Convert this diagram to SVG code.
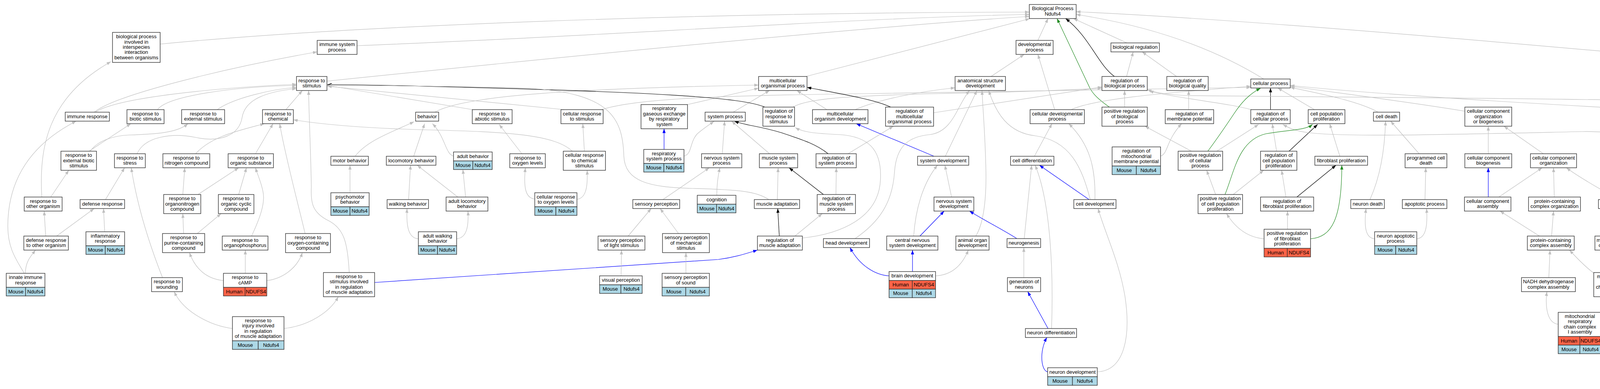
<svg xmlns="http://www.w3.org/2000/svg" width="6075" height="997" viewBox="0 0 6075 997">
<style>
.n{fill:#fff;stroke:#333;stroke-width:1.4}
.m{fill:#add8e6;stroke:#333;stroke-width:1.4}
.h{fill:#ff6347;stroke:#333;stroke-width:1.4}
text{font-family:"Liberation Sans",Arial,Helvetica,sans-serif;font-size:13px;text-anchor:middle;fill:#000}
#edges path{fill:none;stroke-width:1.2}
#edges .g{stroke:#c0c0c0;marker-end:url(#mg)}
#edges .k{stroke:#000;marker-end:url(#mk)}
#edges .b{stroke:#0000ff;marker-end:url(#mb)}
#edges .v{stroke:#228b22;marker-end:url(#mv)}
</style>
<defs>
<marker id="mg" markerUnits="userSpaceOnUse" markerWidth="11" markerHeight="8" refX="11" refY="4" orient="auto"><path d="M0,0 L11,4 L0,8 z" fill="#c0c0c0"/></marker>
<marker id="mk" markerUnits="userSpaceOnUse" markerWidth="11" markerHeight="8" refX="11" refY="4" orient="auto"><path d="M0,0 L11,4 L0,8 z" fill="#000"/></marker>
<marker id="mb" markerUnits="userSpaceOnUse" markerWidth="11" markerHeight="8" refX="11" refY="4" orient="auto"><path d="M0,0 L11,4 L0,8 z" fill="#0000ff"/></marker>
<marker id="mv" markerUnits="userSpaceOnUse" markerWidth="11" markerHeight="8" refX="11" refY="4" orient="auto"><path d="M0,0 L11,4 L0,8 z" fill="#228b22"/></marker>
</defs>
<rect width="6075" height="997" fill="#fff"/>
<g id="edges">
<path class="g" d="M410,113 C900,65 1800,32 2635,31"/>
<path class="g" d="M914,117 C1500,95 2200,45 2635,37"/>
<path class="g" d="M837,208 C1400,150 2200,70 2635,42"/>
<path class="g" d="M2063,196 L2636,48"/>
<path class="g" d="M2657,103.5 L2683,47.5"/>
<path class="k" d="M2853,196 C2810,165 2790,95 2728,47.5"/>
<path class="v" d="M2840,274.5 C2805,250 2793,235 2785,215 L2706,47.5"/>
<path class="g" d="M2885,110 L2748,47.5"/>
<path class="g" d="M3235,202.5 C3150,150 3000,75 2755,37"/>
<path class="g" d="M4957,208 C4200,140 3300,55 2755,30"/>
<path class="g" d="M241,287.5 C300,240 600,170 812,133"/>
<path class="g" d="M244,287.5 C300,250 550,225 759,216"/>
<path class="g" d="M403,281 C430,245 600,222 759,219"/>
<path class="g" d="M556,281 C600,250 700,228 759,224"/>
<path class="g" d="M732,281 L774,232"/>
<path class="g" d="M351,394 C370,350 440,340 500,352 C560,365 612,350 620,300 C628,255 680,235 759,227"/>
<path class="g" d="M228,387.5 L335,317"/>
<path class="g" d="M231,387.5 C250,360 290,348 330,346 C400,344 455,340 481,317"/>
<path class="g" d="M501,394 C540,350 610,335 677,317"/>
<path class="g" d="M654,394 L699,317"/>
<path class="g" d="M781,598.5 C770,550 730,400 716,317"/>
<path class="g" d="M1465,387.5 C1420,345 1300,338 1100,333 C900,328 800,315 751,307"/>
<path class="g" d="M894,698.5 C890,620 880,585 840,565 C800,545 795,520 797,480 C796,400 791,300 790,232"/>
<path class="g" d="M909,400.5 C940,360 1000,340 1060,312"/>
<path class="g" d="M896,494 L896,423.5"/>
<path class="g" d="M130,505 L176,436.5"/>
<path class="g" d="M107,505 C100,380 120,250 284,158"/>
<path class="g" d="M270,511.5 L319,430"/>
<path class="g" d="M416,711.5 C380,620 350,520 336,430"/>
<path class="g" d="M468,498.5 L473,430"/>
<path class="g" d="M507,498.5 L611,430"/>
<path class="g" d="M611,498.5 L631,430"/>
<path class="g" d="M644,605 C665,560 680,520 673,490 C668,465 660,450 654,430"/>
<path class="g" d="M117,605 L113,541"/>
<path class="g" d="M145,605 L241,534.5"/>
<path class="g" d="M268,594 L265,534.5"/>
<path class="g" d="M470,598.5 L468,547.5"/>
<path class="g" d="M505,598.5 L566,547.5"/>
<path class="g" d="M65,700.5 C65,670 80,655 91,641"/>
<path class="g" d="M62,700.5 C45,670 20,640 20,580 C20,480 60,380 195,310.5"/>
<path class="g" d="M572,719 C530,715 500,690 485,647.5"/>
<path class="g" d="M628,700.5 L628,641"/>
<path class="g" d="M683,719 C720,715 760,690 774,647.5"/>
<path class="g" d="M595,842 C540,835 470,800 446,747.5"/>
<path class="g" d="M727,842 C790,835 845,800 866,760.5"/>
<path class="b" d="M959,724 L1839,665 C1880,660 1910,650 1939,641"/>
<path class="g" d="M1113,287.5 C1180,250 1400,228 1942,218"/>
<path class="g" d="M1059,400.5 L1087,317"/>
<path class="g" d="M1161,400 C1140,395 1140,350 1107,317"/>
<path class="g" d="M1210,281 L838,219"/>
<path class="g" d="M1445,281 L838,221"/>
<path class="g" d="M1540,281 C1620,255 1800,245 2222,240 C2700,235 3000,228 3202,224"/>
<path class="g" d="M1760,268 L1942,226"/>
<path class="g" d="M1877,287.5 L1970,232"/>
<path class="k" d="M1958,274.5 C1900,250 1700,235 1000,219 C900,217 860,217 838,217"/>
<path class="g" d="M2030,274.5 C2070,250 2200,245 2400,240 C2600,236 2750,230 2821,226"/>
<path class="g" d="M2117,281 L2040,232"/>
<path class="g" d="M2189,281 C2250,255 2350,235 2445,225"/>
<path class="g" d="M2700,281 L2657,139.5"/>
<path class="g" d="M2742,281 C2800,255 2950,240 3202,221"/>
<path class="k" d="M2280,274.5 C2240,255 2150,240 2066,224"/>
<path class="g" d="M2390,289 L2821,223"/>
<path class="g" d="M2879,274.5 L2879,232"/>
<path class="g" d="M3043,281 L3043,232"/>
<path class="g" d="M3012,196 L2924,133"/>
<path class="g" d="M2884,196 L2901,133"/>
<path class="g" d="M2537,196 L2622,139.5"/>
<path class="g" d="M3203,281 C3150,265 3000,250 2942,233"/>
<path class="k" d="M3252.5,281 L3252.5,225.5"/>
<path class="g" d="M3365,281 L3271,225.5"/>
<path class="g" d="M3528,287.5 C3480,260 3380,240 3303,224"/>
<path class="g" d="M3750,285 C3600,260 3400,235 3303,221"/>
<path class="g" d="M4477,296 C4200,280 3600,250 3303,219"/>
<path class="g" d="M4816,286 C4600,255 4000,254 3040,245 C2990,243 2960,238 2937,230"/>
<path class="g" d="M4588,289 L4958,225.5"/>
<path class="k" d="M4906,281 L4997,225.5"/>
<path class="g" d="M5078,281 L5032,225.5"/>
<path class="g" d="M5219,281 L5060,225.5"/>
<path class="g" d="M5582,289 L5073,220"/>
<path class="g" d="M1336,394 L1278,319"/>
<path class="g" d="M1496,387.5 L1492,317"/>
<path class="b" d="M1700,383 L1700,330"/>
<path class="g" d="M1751,400 C1772,395 1765,365 1785,343 C1800,330 1815,320 1828,311"/>
<path class="g" d="M1849,394 L1855,310.5"/>
<path class="g" d="M1970,394 L1873,310.5"/>
<path class="k" d="M2120,394 C2090,370 2060,360 2000,340 C1940,322 1910,322 1880,310.5"/>
<path class="g" d="M2171,394 L2287,323.5"/>
<path class="b" d="M2391,400.5 L2192,317"/>
<path class="g" d="M2420,400.5 L2501,232"/>
<path class="g" d="M2648,400.5 L2693,317"/>
<path class="g" d="M2971,400 C2990,395 2985,360 3025,317"/>
<path class="g" d="M3050,387.5 L2931,323.5"/>
<path class="g" d="M3115,387.5 L3222,319"/>
<path class="v" d="M3092,387.5 C3120,350 3140,320 3160,290 C3180,260 3200,240 3227,226"/>
<path class="g" d="M3268,387.5 L3257,317"/>
<path class="k" d="M3300,387.5 L3373,319"/>
<path class="g" d="M3430,400.5 L3404,317"/>
<path class="g" d="M3633,394 L3560,310.5"/>
<path class="g" d="M3810,394 L3810,323.5"/>
<path class="g" d="M3951,394 L3850,323.5"/>
<path class="g" d="M4232,387.5 C4280,350 4380,325 4477,311"/>
<path class="k" d="M4398,387.5 L4506,317"/>
<path class="g" d="M4393,387.5 C4420,365 4460,360 4550,350 C4650,338 4750,320 4816,310"/>
<path class="g" d="M4333,387.5 C4290,350 4200,340 4060,337 C3700,345 3450,352 3350,340 C3310,335 3295,325 3284,319"/>
<path class="g" d="M4533,394 L4533,317"/>
<path class="g" d="M4647,390 C4625,385 4630,350 4567,317"/>
<path class="g" d="M4867,387.5 L4590,313"/>
<path class="g" d="M5059,387.5 L4932,317"/>
<path class="k" d="M5095.5,387.5 L5095.5,317"/>
<path class="k" d="M5257,387.5 L5257,317"/>
<path class="g" d="M5222,387.5 C5190,350 5100,345 5000,335 C4960,330 4945,325 4935,317"/>
<path class="g" d="M5500,394 L5617,317"/>
<path class="g" d="M5641,387.5 L5641,317"/>
<path class="g" d="M5591,387.5 C5560,350 5450,325 5317,310"/>
<path class="g" d="M5775,387.5 L5668,317"/>
<path class="g" d="M5955,387.5 C5920,355 5800,325 5699,311"/>
<path class="g" d="M1046,511.5 L1051,423.5"/>
<path class="g" d="M1172,505 L1068,423.5"/>
<path class="g" d="M1192,505 L1185,434.5"/>
<path class="g" d="M1369,510 C1345,508 1340,480 1345,430"/>
<path class="g" d="M1477,511 C1500,508 1505,480 1503,436.5"/>
<path class="g" d="M1697,511.5 L1816,430"/>
<path class="g" d="M1835,500.5 C1835,470 1838,450 1843,430"/>
<path class="g" d="M1990,511.5 L1992,430"/>
<path class="g" d="M1968,511.5 C1940,492 1900,486 1773,483 C1660,480 1600,465 1597,400 C1594,300 1560,238 1350,226 C1150,220 900,219 838,219"/>
<path class="g" d="M2140,498.5 L2141,430"/>
<path class="k" d="M2108,498.5 L2020,430"/>
<path class="g" d="M2436,505 L2419,423.5"/>
<path class="g" d="M2803,511.5 C2805,430 2790,370 2736,317"/>
<path class="b" d="M2788,511.5 L2661,423.5"/>
<path class="g" d="M2791,511.5 C2770,430 2740,360 2650,348 C2580,340 2550,290 2531,232"/>
<path class="g" d="M3112,498.5 L3089,436.5"/>
<path class="g" d="M3157,498.5 L3235,436.5"/>
<path class="v" d="M3136,498.5 C3160,440 3170,360 3240,343 C3300,332 3340,335 3360,319"/>
<path class="g" d="M3292,505 L3281,436.5"/>
<path class="k" d="M3320,505 L3420,423.5"/>
<path class="g" d="M3507,511.5 C3535,450 3545,380 3547,310.5"/>
<path class="g" d="M3648,511.5 L3650,430"/>
<path class="b" d="M3810,505 L3810,430"/>
<path class="g" d="M3837,505 L3948,430"/>
<path class="g" d="M3979,505 L3977,430"/>
<path class="g" d="M4141,511.5 C4100,485 4050,460 4010,430"/>
<path class="g" d="M4346,498.5 L4242,436.5"/>
<path class="k" d="M4567,498.5 L4541,430"/>
<path class="g" d="M4515,498.5 C4470,480 4420,465 4400,436.5"/>
<path class="g" d="M4697,498.5 C4650,480 4600,455 4564,430"/>
<path class="k" d="M5210,506 L5429,430"/>
<path class="g" d="M5093,518 C4950,510 4870,490 4840,450 C4815,415 4820,360 4857,317"/>
<path class="g" d="M5380,505 L5452,430"/>
<path class="g" d="M5397,505 C5450,470 5560,475 5597,436.5"/>
<path class="g" d="M5367,505 C5365,420 5360,360 5300,345 C5200,335 5160,335 5131,317"/>
<path class="g" d="M5503,505 L5484,430"/>
<path class="g" d="M5655,505 L5648,436.5"/>
<path class="g" d="M5823,498.5 L5819,436.5"/>
<path class="g" d="M5863,498.5 L5950,436.5"/>
<path class="g" d="M5767,498.5 C5720,478 5600,476 5300,476 C5100,476 5000,470 4962,436.5"/>
<path class="g" d="M1071,612 C1045,610 1040,580 1042,534.5"/>
<path class="g" d="M1169,612 C1195,610 1200,580 1198,541"/>
<path class="g" d="M1608,605 L1667,534.5"/>
<path class="g" d="M1737,598.5 L1690,534.5"/>
<path class="k" d="M1995,605 L1991,534.5"/>
<path class="g" d="M2035,605 L2105,547.5"/>
<path class="g" d="M2054,610 C2150,600 2250,560 2254,460 C2258,380 2220,350 2150,345 C2080,342 2055,338 2036,327"/>
<path class="g" d="M2189,611.5 C2250,570 2285,520 2290,440 C2295,370 2330,350 2380,345 C2440,338 2450,270 2482,232"/>
<path class="b" d="M2355,605 L2417,541"/>
<path class="g" d="M2339,605 C2345,520 2370,460 2400,423.5"/>
<path class="g" d="M2498,605 C2520,570 2525,500 2524,440 C2522,340 2516,280 2514,232"/>
<path class="b" d="M2603,611.5 C2570,590 2520,565 2482,541"/>
<path class="g" d="M2622,611.5 L2641,423.5"/>
<path class="g" d="M3236,612 C3190,608 3160,580 3140,547.5"/>
<path class="g" d="M3296,587.5 L3296,541"/>
<path class="v" d="M3355,612 C3410,608 3435,560 3435,423.5"/>
<path class="g" d="M3519,612 C3495,610 3492,580 3497,534.5"/>
<path class="g" d="M3627,612 C3650,610 3655,580 3652,534.5"/>
<path class="g" d="M3941,605 L3840,541"/>
<path class="g" d="M3972,605 L3977,541"/>
<path class="g" d="M4133,605 L4154,534.5"/>
<path class="g" d="M4275,605 C4272,530 4255,470 4222,436.5"/>
<path class="g" d="M4436,600.5 C4435,580 4428,560 4417,547.5"/>
<path class="g" d="M4688,598.5 L4616,547.5"/>
<path class="k" d="M4733,598.5 L4750,547.5"/>
<path class="g" d="M4870,611.5 L4792,547.5"/>
<path class="g" d="M5186,598.5 L5164,547.5"/>
<path class="k" d="M5241,598.5 L5332,541"/>
<path class="g" d="M5144,607 C5090,590 5060,560 5060,520 C5060,480 5070,460 5076,436.5"/>
<path class="g" d="M5212,598.5 C5230,540 5240,490 5253,436.5"/>
<path class="g" d="M5360,605 L5360,541"/>
<path class="g" d="M5389,605 L5481,541"/>
<path class="g" d="M5657,605 L5658,541"/>
<path class="g" d="M5825,598.5 L5824,547.5"/>
<path class="g" d="M1590,707 L1591,641"/>
<path class="g" d="M1756,700.5 L1756,647.5"/>
<path class="b" d="M2276,707 C2240,705 2200,680 2176,634.5"/>
<path class="b" d="M2336,696 L2336,641"/>
<path class="g" d="M2395,707 C2440,705 2465,675 2479,641"/>
<path class="g" d="M2621,711.5 L2621,634.5"/>
<path class="g" d="M3965,711.5 L3968,641"/>
<path class="b" d="M4127,698.5 L4127,641"/>
<path class="g" d="M4080,700 C4060,685 4040,665 4018,641"/>
<path class="g" d="M4340,694 C4340,670 4325,655 4311,641"/>
<path class="b" d="M4394,718 C4420,712 4405,690 4390,675 C4380,665 4377,655 4376,645.5"/>
<path class="g" d="M4844,711.5 L4759,647.5"/>
<path class="k" d="M4872,711.5 L4883,634.5"/>
<path class="g" d="M5019,718 L4906,634.5"/>
<path class="g" d="M5070,718 C5110,690 5200,672 5260,668 C5295,665 5310,655 5325,641"/>
<path class="g" d="M5210,705 L5204,647.5"/>
<path class="k" d="M5251,705 L5337,641"/>
<path class="g" d="M5727,711.5 L5675,641"/>
<path class="g" d="M5758,711.5 L5801,647.5"/>
<path class="b" d="M2683,842 L2631,747.5"/>
<path class="g" d="M2692,842 C2697,700 2690,520 2650,423.5"/>
<path class="g" d="M3989,831 C3962,828 3955,790 3960,747.5"/>
<path class="g" d="M4100,831 C4128,828 4133,790 4131,760.5"/>
<path class="g" d="M4964,842 C4920,835 4890,800 4878,747.5"/>
<path class="k" d="M5037,824.5 L5037,741"/>
<path class="g" d="M5109,842 C5160,835 5190,790 5203,754"/>
<path class="g" d="M5741,824.5 L5741,747.5"/>
<path class="b" d="M2682,953 C2665,950 2660,900 2680,865"/>
<path class="g" d="M2809,953 C2880,950 2895,860 2880,760 C2865,670 2830,600 2811,534.5"/>
</g>
<g id="n-root"><rect class="n" x="2635" y="11.5" width="120" height="36"/><text><tspan x="2695" y="26.3">Biological Process</tspan><tspan x="2695" y="39.7">Ndufs4</tspan></text></g>
<g id="n-bpi"><rect class="n" x="288" y="83" width="122" height="77"/><text><tspan x="349" y="98.2">biological process</tspan><tspan x="349" y="111.6">involved in</tspan><tspan x="349" y="125">interspecies</tspan><tspan x="349" y="138.4">interaction</tspan><tspan x="349" y="151.8">between organisms</tspan></text></g>
<g id="n-isp"><rect class="n" x="812" y="103.5" width="102" height="36"/><text><tspan x="863" y="118.3">immune system</tspan><tspan x="863" y="131.7">process</tspan></text></g>
<g id="n-dev"><rect class="n" x="2601" y="103.5" width="95" height="36"/><text><tspan x="2648.5" y="118.3">developmental</tspan><tspan x="2648.5" y="131.7">process</tspan></text></g>
<g id="n-breg"><rect class="n" x="2844" y="110" width="124" height="23"/><text><tspan x="2906" y="125">biological regulation</tspan></text></g>
<g id="n-rts"><rect class="n" x="759" y="196" width="78" height="36"/><text><tspan x="798" y="210.8">response to</tspan><tspan x="798" y="224.2">stimulus</tspan></text></g>
<g id="n-mop"><rect class="n" x="1942" y="196" width="124" height="36"/><text><tspan x="2004" y="210.8">multicellular</tspan><tspan x="2004" y="224.2">organismal process</tspan></text></g>
<g id="n-asd"><rect class="n" x="2445" y="196" width="129" height="36"/><text><tspan x="2509.5" y="210.8">anatomical structure</tspan><tspan x="2509.5" y="224.2">development</tspan></text></g>
<g id="n-rbp"><rect class="n" x="2821" y="196" width="116" height="36"/><text><tspan x="2879" y="210.8">regulation of</tspan><tspan x="2879" y="224.2">biological process</tspan></text></g>
<g id="n-rbq"><rect class="n" x="2987" y="196" width="106" height="36"/><text><tspan x="3040" y="210.8">regulation of</tspan><tspan x="3040" y="224.2">biological quality</tspan></text></g>
<g id="n-cp"><rect class="n" x="3202" y="202.5" width="101" height="23"/><text><tspan x="3252.5" y="217.5">cellular process</tspan></text></g>
<g id="n-mp"><rect class="n" x="4957" y="202.5" width="116" height="23"/><text><tspan x="5015" y="217.5">metabolic process</tspan></text></g>
<g id="n-ir"><rect class="n" x="167" y="287.5" width="113" height="23"/><text><tspan x="223.5" y="302.5">immune response</tspan></text></g>
<g id="n-rbs"><rect class="n" x="325" y="281" width="95" height="36"/><text><tspan x="372.5" y="295.8">response to</tspan><tspan x="372.5" y="309.2">biotic stimulus</tspan></text></g>
<g id="n-res"><rect class="n" x="465" y="281" width="110" height="36"/><text><tspan x="520" y="295.8">response to</tspan><tspan x="520" y="309.2">external stimulus</tspan></text></g>
<g id="n-rch"><rect class="n" x="672" y="281" width="79" height="36"/><text><tspan x="711.5" y="295.8">response to</tspan><tspan x="711.5" y="309.2">chemical</tspan></text></g>
<g id="n-beh"><rect class="n" x="1064" y="287.5" width="59" height="23"/><text><tspan x="1093.5" y="302.5">behavior</tspan></text></g>
<g id="n-ras"><rect class="n" x="1209" y="281" width="102" height="36"/><text><tspan x="1260" y="295.8">response to</tspan><tspan x="1260" y="309.2">abiotic stimulus</tspan></text></g>
<g id="n-crs"><rect class="n" x="1436" y="281" width="108" height="36"/><text><tspan x="1490" y="295.8">cellular response</tspan><tspan x="1490" y="309.2">to stimulus</tspan></text></g>
<g id="n-rge"><rect class="n" x="1641" y="268" width="119" height="62"/><text><tspan x="1700.5" y="282.4">respiratory</tspan><tspan x="1700.5" y="295.8">gaseous exchange</tspan><tspan x="1700.5" y="309.2">by respiratory</tspan><tspan x="1700.5" y="322.6">system</tspan></text></g>
<g id="n-sp"><rect class="n" x="1805" y="287.5" width="103" height="23"/><text><tspan x="1856.5" y="302.5">system process</tspan></text></g>
<g id="n-rrs"><rect class="n" x="1953" y="274.5" width="81" height="49"/><text><tspan x="1993.5" y="289.1">regulation of</tspan><tspan x="1993.5" y="302.5">response to</tspan><tspan x="1993.5" y="315.9">stimulus</tspan></text></g>
<g id="n-mod"><rect class="n" x="2080" y="281" width="142" height="36"/><text><tspan x="2151" y="295.8">multicellular</tspan><tspan x="2151" y="309.2">organism development</tspan></text></g>
<g id="n-rmop"><rect class="n" x="2267" y="274.5" width="123" height="49"/><text><tspan x="2328.5" y="289.1">regulation of</tspan><tspan x="2328.5" y="302.5">multicellular</tspan><tspan x="2328.5" y="315.9">organismal process</tspan></text></g>
<g id="n-cdp"><rect class="n" x="2637" y="281" width="139" height="36"/><text><tspan x="2706.5" y="295.8">cellular developmental</tspan><tspan x="2706.5" y="309.2">process</tspan></text></g>
<g id="n-prbp"><rect class="n" x="2821" y="274.5" width="116" height="49"/><text><tspan x="2879" y="289.1">positive regulation</tspan><tspan x="2879" y="302.5">of biological</tspan><tspan x="2879" y="315.9">process</tspan></text></g>
<g id="n-rmpot"><rect class="n" x="2983" y="281" width="124" height="36"/><text><tspan x="3045" y="295.8">regulation of</tspan><tspan x="3045" y="309.2">membrane potential</tspan></text></g>
<g id="n-rcp"><rect class="n" x="3202" y="281" width="101" height="36"/><text><tspan x="3252.5" y="295.8">regulation of</tspan><tspan x="3252.5" y="309.2">cellular process</tspan></text></g>
<g id="n-cpp"><rect class="n" x="3349" y="281" width="94" height="36"/><text><tspan x="3396" y="295.8">cell population</tspan><tspan x="3396" y="309.2">proliferation</tspan></text></g>
<g id="n-cd"><rect class="n" x="3516" y="287.5" width="67" height="23"/><text><tspan x="3549.5" y="302.5">cell death</tspan></text></g>
<g id="n-ccob"><rect class="n" x="3750" y="274.5" width="120" height="49"/><text><tspan x="3810" y="289.1">cellular component</tspan><tspan x="3810" y="302.5">organization</tspan><tspan x="3810" y="315.9">or biogenesis</tspan></text></g>
<g id="n-cmp"><rect class="n" x="4477" y="281" width="111" height="36"/><text><tspan x="4532.5" y="295.8">cellular metabolic</tspan><tspan x="4532.5" y="309.2">process</tspan></text></g>
<g id="n-rmp"><rect class="n" x="4816" y="281" width="116" height="36"/><text><tspan x="4874" y="295.8">regulation of</tspan><tspan x="4874" y="309.2">metabolic process</tspan></text></g>
<g id="n-pmp"><rect class="n" x="5039" y="281" width="113" height="36"/><text><tspan x="5095.5" y="295.8">primary metabolic</tspan><tspan x="5095.5" y="309.2">process</tspan></text></g>
<g id="n-ncmp"><rect class="n" x="5197" y="281" width="120" height="36"/><text><tspan x="5257" y="295.8">nitrogen compound</tspan><tspan x="5257" y="309.2">metabolic process</tspan></text></g>
<g id="n-osmp"><rect class="n" x="5582" y="281" width="117" height="36"/><text><tspan x="5640.5" y="295.8">organic substance</tspan><tspan x="5640.5" y="309.2">metabolic process</tspan></text></g>
<g id="n-rebs"><rect class="n" x="156" y="387.5" width="91" height="49"/><text><tspan x="201.5" y="402.1">response to</tspan><tspan x="201.5" y="415.5">external biotic</tspan><tspan x="201.5" y="428.9">stimulus</tspan></text></g>
<g id="n-rst"><rect class="n" x="293" y="394" width="79" height="36"/><text><tspan x="332.5" y="408.8">response to</tspan><tspan x="332.5" y="422.2">stress</tspan></text></g>
<g id="n-rnc"><rect class="n" x="417" y="394" width="120" height="36"/><text><tspan x="477" y="408.8">response to</tspan><tspan x="477" y="422.2">nitrogen compound</tspan></text></g>
<g id="n-ros"><rect class="n" x="584" y="394" width="116" height="36"/><text><tspan x="642" y="408.8">response to</tspan><tspan x="642" y="422.2">organic substance</tspan></text></g>
<g id="n-mb"><rect class="n" x="847" y="400.5" width="96" height="23"/><text><tspan x="895" y="415.5">motor behavior</tspan></text></g>
<g id="n-lb"><rect class="n" x="989" y="400.5" width="127" height="23"/><text><tspan x="1052.5" y="415.5">locomotory behavior</tspan></text></g>
<g id="n-ab"><rect class="n" x="1161" y="389.5" width="99" height="23"/><text><tspan x="1210.5" y="404.5">adult behavior</tspan></text><rect class="m" x="1161" y="412.5" width="49.5" height="22"/><rect class="m" x="1210.5" y="412.5" width="49.5" height="22"/><text><tspan x="1185.75" y="427.5">Mouse</tspan><tspan x="1235.25" y="427.5">Ndufs4</tspan></text></g>
<g id="n-rol"><rect class="n" x="1305" y="394" width="91" height="36"/><text><tspan x="1350.5" y="408.8">response to</tspan><tspan x="1350.5" y="422.2">oxygen levels</tspan></text></g>
<g id="n-crcs"><rect class="n" x="1442" y="387.5" width="108" height="49"/><text><tspan x="1496" y="402.1">cellular response</tspan><tspan x="1496" y="415.5">to chemical</tspan><tspan x="1496" y="428.9">stimulus</tspan></text></g>
<g id="n-rsp"><rect class="n" x="1648" y="383" width="103" height="36"/><text><tspan x="1699.5" y="397.8">respiratory</tspan><tspan x="1699.5" y="411.2">system process</tspan></text><rect class="m" x="1648" y="419" width="51.5" height="22"/><rect class="m" x="1699.5" y="419" width="51.5" height="22"/><text><tspan x="1673.75" y="434">Mouse</tspan><tspan x="1725.25" y="434">Ndufs4</tspan></text></g>
<g id="n-nsp"><rect class="n" x="1796" y="394" width="103" height="36"/><text><tspan x="1847.5" y="408.8">nervous system</tspan><tspan x="1847.5" y="422.2">process</tspan></text></g>
<g id="n-msp"><rect class="n" x="1944" y="394" width="98" height="36"/><text><tspan x="1993" y="408.8">muscle system</tspan><tspan x="1993" y="422.2">process</tspan></text></g>
<g id="n-rsysp"><rect class="n" x="2089" y="394" width="103" height="36"/><text><tspan x="2140.5" y="408.8">regulation of</tspan><tspan x="2140.5" y="422.2">system process</tspan></text></g>
<g id="n-sd"><rect class="n" x="2349" y="400.5" width="131" height="23"/><text><tspan x="2414.5" y="415.5">system development</tspan></text></g>
<g id="n-cdiff"><rect class="n" x="2587" y="400.5" width="111" height="23"/><text><tspan x="2642.5" y="415.5">cell differentiation</tspan></text></g>
<g id="n-rmmp"><rect class="n" x="2847" y="376.5" width="124" height="49"/><text><tspan x="2909" y="391.1">regulation of</tspan><tspan x="2909" y="404.5">mitochondrial</tspan><tspan x="2909" y="417.9">membrane potential</tspan></text><rect class="m" x="2847" y="425.5" width="62" height="22"/><rect class="m" x="2909" y="425.5" width="62" height="22"/><text><tspan x="2878" y="440.5">Mouse</tspan><tspan x="2940" y="440.5">Ndufs4</tspan></text></g>
<g id="n-prcp"><rect class="n" x="3016" y="387.5" width="114" height="49"/><text><tspan x="3073" y="402.1">positive regulation</tspan><tspan x="3073" y="415.5">of cellular</tspan><tspan x="3073" y="428.9">process</tspan></text></g>
<g id="n-rcpp"><rect class="n" x="3227" y="387.5" width="93" height="49"/><text><tspan x="3273.5" y="402.1">regulation of</tspan><tspan x="3273.5" y="415.5">cell population</tspan><tspan x="3273.5" y="428.9">proliferation</tspan></text></g>
<g id="n-fp"><rect class="n" x="3366" y="400.5" width="135" height="23"/><text><tspan x="3433.5" y="415.5">fibroblast proliferation</tspan></text></g>
<g id="n-pcd"><rect class="n" x="3597" y="394" width="107" height="36"/><text><tspan x="3650.5" y="408.8">programmed cell</tspan><tspan x="3650.5" y="422.2">death</tspan></text></g>
<g id="n-ccb"><rect class="n" x="3750" y="394" width="120" height="36"/><text><tspan x="3810" y="408.8">cellular component</tspan><tspan x="3810" y="422.2">biogenesis</tspan></text></g>
<g id="n-cco"><rect class="n" x="3918" y="394" width="118" height="36"/><text><tspan x="3977" y="408.8">cellular component</tspan><tspan x="3977" y="422.2">organization</tspan></text></g>
<g id="n-gpme"><rect class="n" x="4128" y="387.5" width="135" height="49"/><text><tspan x="4195.5" y="402.1">generation of</tspan><tspan x="4195.5" y="415.5">precursor metabolites</tspan><tspan x="4195.5" y="428.9">and energy</tspan></text></g>
<g id="n-rcmp"><rect class="n" x="4308" y="387.5" width="110" height="49"/><text><tspan x="4363" y="402.1">regulation of</tspan><tspan x="4363" y="415.5">cellular metabolic</tspan><tspan x="4363" y="428.9">process</tspan></text></g>
<g id="n-phmp"><rect class="n" x="4464" y="394" width="137" height="36"/><text><tspan x="4532.5" y="408.8">phosphorus metabolic</tspan><tspan x="4532.5" y="422.2">process</tspan></text></g>
<g id="n-rosmp"><rect class="n" x="4647" y="365.5" width="117" height="49"/><text><tspan x="4705.5" y="380.1">reactive oxygen</tspan><tspan x="4705.5" y="393.5">species metabolic</tspan><tspan x="4705.5" y="406.9">process</tspan></text><rect class="h" x="4647" y="414.5" width="58.5" height="22"/><rect class="h" x="4705.5" y="414.5" width="58.5" height="22"/><rect class="m" x="4647" y="436.5" width="58.5" height="22"/><rect class="m" x="4705.5" y="436.5" width="58.5" height="22"/><text><tspan x="4676.25" y="429.5">Human</tspan><tspan x="4734.75" y="429.5">NDUFS4</tspan><tspan x="4676.25" y="451.5">Mouse</tspan><tspan x="4734.75" y="451.5">Ndufs4</tspan></text></g>
<g id="n-camp"><rect class="n" x="4861" y="387.5" width="131" height="49"/><text><tspan x="4926.5" y="402.1">cellular aromatic</tspan><tspan x="4926.5" y="415.5">compound metabolic</tspan><tspan x="4926.5" y="428.9">process</tspan></text></g>
<g id="n-rpmp"><rect class="n" x="5039" y="387.5" width="113" height="49"/><text><tspan x="5095.5" y="402.1">regulation of</tspan><tspan x="5095.5" y="415.5">primary metabolic</tspan><tspan x="5095.5" y="428.9">process</tspan></text></g>
<g id="n-rncmp"><rect class="n" x="5197" y="387.5" width="120" height="49"/><text><tspan x="5257" y="402.1">regulation of</tspan><tspan x="5257" y="415.5">nitrogen compound</tspan><tspan x="5257" y="428.9">metabolic process</tspan></text></g>
<g id="n-mmp"><rect class="n" x="5415" y="394" width="115" height="36"/><text><tspan x="5472.5" y="408.8">macromolecule</tspan><tspan x="5472.5" y="422.2">metabolic process</tspan></text></g>
<g id="n-oncmp"><rect class="n" x="5576" y="387.5" width="130" height="49"/><text><tspan x="5641" y="402.1">organonitrogen</tspan><tspan x="5641" y="415.5">compound metabolic</tspan><tspan x="5641" y="428.9">process</tspan></text></g>
<g id="n-ohcmp"><rect class="n" x="5751" y="387.5" width="131" height="49"/><text><tspan x="5816.5" y="402.1">organic hydroxy</tspan><tspan x="5816.5" y="415.5">compound metabolic</tspan><tspan x="5816.5" y="428.9">process</tspan></text></g>
<g id="n-occmp"><rect class="n" x="5927" y="387.5" width="131" height="49"/><text><tspan x="5992.5" y="402.1">organic cyclic</tspan><tspan x="5992.5" y="415.5">compound metabolic</tspan><tspan x="5992.5" y="428.9">process</tspan></text></g>
<g id="n-roo"><rect class="n" x="62" y="505" width="97" height="36"/><text><tspan x="110.5" y="519.8">response to</tspan><tspan x="110.5" y="533.2">other organism</tspan></text></g>
<g id="n-dr"><rect class="n" x="205" y="511.5" width="114" height="23"/><text><tspan x="262" y="526.5">defense response</tspan></text></g>
<g id="n-ronc"><rect class="n" x="419" y="498.5" width="95" height="49"/><text><tspan x="466.5" y="513.1">response to</tspan><tspan x="466.5" y="526.5">organonitrogen</tspan><tspan x="466.5" y="539.9">compound</tspan></text></g>
<g id="n-rocc"><rect class="n" x="559" y="498.5" width="91" height="49"/><text><tspan x="604.5" y="513.1">response to</tspan><tspan x="604.5" y="526.5">organic cyclic</tspan><tspan x="604.5" y="539.9">compound</tspan></text></g>
<g id="n-pmb"><rect class="n" x="847" y="494" width="98" height="36"/><text><tspan x="896" y="508.8">psychomotor</tspan><tspan x="896" y="522.2">behavior</tspan></text><rect class="m" x="847" y="530" width="49" height="22"/><rect class="m" x="896" y="530" width="49" height="22"/><text><tspan x="871.5" y="545">Mouse</tspan><tspan x="920.5" y="545">Ndufs4</tspan></text></g>
<g id="n-wb"><rect class="n" x="991" y="511.5" width="106" height="23"/><text><tspan x="1044" y="526.5">walking behavior</tspan></text></g>
<g id="n-alb"><rect class="n" x="1142" y="505" width="107" height="36"/><text><tspan x="1195.5" y="519.8">adult locomotory</tspan><tspan x="1195.5" y="533.2">behavior</tspan></text></g>
<g id="n-crol"><rect class="n" x="1369" y="494" width="108" height="36"/><text><tspan x="1423" y="508.8">cellular response</tspan><tspan x="1423" y="522.2">to oxygen levels</tspan></text><rect class="m" x="1369" y="530" width="54" height="22"/><rect class="m" x="1423" y="530" width="54" height="22"/><text><tspan x="1396" y="545">Mouse</tspan><tspan x="1450" y="545">Ndufs4</tspan></text></g>
<g id="n-spn"><rect class="n" x="1620" y="511.5" width="120" height="23"/><text><tspan x="1680" y="526.5">sensory perception</tspan></text></g>
<g id="n-cog"><rect class="n" x="1785" y="500.5" width="99" height="23"/><text><tspan x="1834.5" y="515.5">cognition</tspan></text><rect class="m" x="1785" y="523.5" width="49.5" height="22"/><rect class="m" x="1834.5" y="523.5" width="49.5" height="22"/><text><tspan x="1809.75" y="538.5">Mouse</tspan><tspan x="1859.25" y="538.5">Ndufs4</tspan></text></g>
<g id="n-ma"><rect class="n" x="1931" y="511.5" width="116" height="23"/><text><tspan x="1989" y="526.5">muscle adaptation</tspan></text></g>
<g id="n-rmsp"><rect class="n" x="2092" y="498.5" width="98" height="49"/><text><tspan x="2141" y="513.1">regulation of</tspan><tspan x="2141" y="526.5">muscle system</tspan><tspan x="2141" y="539.9">process</tspan></text></g>
<g id="n-nsd"><rect class="n" x="2391" y="505" width="102" height="36"/><text><tspan x="2442" y="519.8">nervous system</tspan><tspan x="2442" y="533.2">development</tspan></text></g>
<g id="n-cdev"><rect class="n" x="2749" y="511.5" width="108" height="23"/><text><tspan x="2803" y="526.5">cell development</tspan></text></g>
<g id="n-prcpp"><rect class="n" x="3067" y="498.5" width="114" height="49"/><text><tspan x="3124" y="513.1">positive regulation</tspan><tspan x="3124" y="526.5">of cell population</tspan><tspan x="3124" y="539.9">proliferation</tspan></text></g>
<g id="n-rfp"><rect class="n" x="3227" y="505" width="136" height="36"/><text><tspan x="3295" y="519.8">regulation of</tspan><tspan x="3295" y="533.2">fibroblast proliferation</tspan></text></g>
<g id="n-nd"><rect class="n" x="3458" y="511.5" width="86" height="23"/><text><tspan x="3501" y="526.5">neuron death</tspan></text></g>
<g id="n-ap"><rect class="n" x="3590" y="511.5" width="114" height="23"/><text><tspan x="3647" y="526.5">apoptotic process</tspan></text></g>
<g id="n-cca"><rect class="n" x="3749" y="505" width="119" height="36"/><text><tspan x="3808.5" y="519.8">cellular component</tspan><tspan x="3808.5" y="533.2">assembly</tspan></text></g>
<g id="n-pcco"><rect class="n" x="3913" y="505" width="133" height="36"/><text><tspan x="3979.5" y="519.8">protein-containing</tspan><tspan x="3979.5" y="533.2">complex organization</tspan></text></g>
<g id="n-oo"><rect class="n" x="4092" y="511.5" width="136" height="23"/><text><tspan x="4160" y="526.5">organelle organization</tspan></text></g>
<g id="n-edo"><rect class="n" x="4323" y="498.5" width="140" height="49"/><text><tspan x="4393" y="513.1">energy derivation</tspan><tspan x="4393" y="526.5">by oxidation</tspan><tspan x="4393" y="539.9">of organic compounds</tspan></text></g>
<g id="n-rphmp"><rect class="n" x="4509" y="498.5" width="137" height="49"/><text><tspan x="4577.5" y="513.1">regulation of</tspan><tspan x="4577.5" y="526.5">phosphorus metabolic</tspan><tspan x="4577.5" y="539.9">process</tspan></text></g>
<g id="n-pccmp"><rect class="n" x="4692" y="498.5" width="133" height="49"/><text><tspan x="4758.5" y="513.1">phosphate-containing</tspan><tspan x="4758.5" y="526.5">compound metabolic</tspan><tspan x="4758.5" y="539.9">process</tspan></text></g>
<g id="n-rmacmp"><rect class="n" x="5093" y="498.5" width="117" height="49"/><text><tspan x="5151.5" y="513.1">regulation of</tspan><tspan x="5151.5" y="526.5">macromolecule</tspan><tspan x="5151.5" y="539.9">metabolic process</tspan></text></g>
<g id="n-prmp"><rect class="n" x="5305" y="505" width="110" height="36"/><text><tspan x="5360" y="519.8">protein metabolic</tspan><tspan x="5360" y="533.2">process</tspan></text></g>
<g id="n-mmod"><rect class="n" x="5459" y="505" width="99" height="36"/><text><tspan x="5508.5" y="519.8">macromolecule</tspan><tspan x="5508.5" y="533.2">modification</tspan></text></g>
<g id="n-amp"><rect class="n" x="5605" y="505" width="106" height="36"/><text><tspan x="5658" y="519.8">amine metabolic</tspan><tspan x="5658" y="533.2">process</tspan></text></g>
<g id="n-pcmp"><rect class="n" x="5758" y="498.5" width="131" height="49"/><text><tspan x="5823.5" y="513.1">phenol-containing</tspan><tspan x="5823.5" y="526.5">compound metabolic</tspan><tspan x="5823.5" y="539.9">process</tspan></text></g>
<g id="n-drto"><rect class="n" x="61" y="605" width="114" height="36"/><text><tspan x="118" y="619.8">defense response</tspan><tspan x="118" y="633.2">to other organism</tspan></text></g>
<g id="n-infl"><rect class="n" x="220" y="594" width="99" height="36"/><text><tspan x="269.5" y="608.8">inflammatory</tspan><tspan x="269.5" y="622.2">response</tspan></text><rect class="m" x="220" y="630" width="49.5" height="22"/><rect class="m" x="269.5" y="630" width="49.5" height="22"/><text><tspan x="244.75" y="645">Mouse</tspan><tspan x="294.25" y="645">Ndufs4</tspan></text></g>
<g id="n-rpcc"><rect class="n" x="416" y="598.5" width="108" height="49"/><text><tspan x="470" y="613.1">response to</tspan><tspan x="470" y="626.5">purine-containing</tspan><tspan x="470" y="639.9">compound</tspan></text></g>
<g id="n-rop"><rect class="n" x="569" y="605" width="117" height="36"/><text><tspan x="627.5" y="619.8">response to</tspan><tspan x="627.5" y="633.2">organophosphorus</tspan></text></g>
<g id="n-roxc"><rect class="n" x="731" y="598.5" width="115" height="49"/><text><tspan x="788.5" y="613.1">response to</tspan><tspan x="788.5" y="626.5">oxygen-containing</tspan><tspan x="788.5" y="639.9">compound</tspan></text></g>
<g id="n-awb"><rect class="n" x="1071" y="594" width="98" height="36"/><text><tspan x="1120" y="608.8">adult walking</tspan><tspan x="1120" y="622.2">behavior</tspan></text><rect class="m" x="1071" y="630" width="49" height="22"/><rect class="m" x="1120" y="630" width="49" height="22"/><text><tspan x="1095.5" y="645">Mouse</tspan><tspan x="1144.5" y="645">Ndufs4</tspan></text></g>
<g id="n-spls"><rect class="n" x="1531" y="605" width="120" height="36"/><text><tspan x="1591" y="619.8">sensory perception</tspan><tspan x="1591" y="633.2">of light stimulus</tspan></text></g>
<g id="n-spms"><rect class="n" x="1696" y="598.5" width="120" height="49"/><text><tspan x="1756" y="613.1">sensory perception</tspan><tspan x="1756" y="626.5">of mechanical</tspan><tspan x="1756" y="639.9">stimulus</tspan></text></g>
<g id="n-rma"><rect class="n" x="1939" y="605" width="115" height="36"/><text><tspan x="1996.5" y="619.8">regulation of</tspan><tspan x="1996.5" y="633.2">muscle adaptation</tspan></text></g>
<g id="n-hd"><rect class="n" x="2108" y="611.5" width="118" height="23"/><text><tspan x="2167" y="626.5">head development</tspan></text></g>
<g id="n-cnsd"><rect class="n" x="2270" y="605" width="131" height="36"/><text><tspan x="2335.5" y="619.8">central nervous</tspan><tspan x="2335.5" y="633.2">system development</tspan></text></g>
<g id="n-aod"><rect class="n" x="2447" y="605" width="85" height="36"/><text><tspan x="2489.5" y="619.8">animal organ</tspan><tspan x="2489.5" y="633.2">development</tspan></text></g>
<g id="n-ng"><rect class="n" x="2578" y="611.5" width="86" height="23"/><text><tspan x="2621" y="626.5">neurogenesis</tspan></text></g>
<g id="n-prfp"><rect class="n" x="3236" y="587.5" width="119" height="49"/><text><tspan x="3295.5" y="602.1">positive regulation</tspan><tspan x="3295.5" y="615.5">of fibroblast</tspan><tspan x="3295.5" y="628.9">proliferation</tspan></text><rect class="h" x="3236" y="636.5" width="59.5" height="22"/><rect class="h" x="3295.5" y="636.5" width="59.5" height="22"/><text><tspan x="3265.75" y="651.5">Human</tspan><tspan x="3325.25" y="651.5">NDUFS4</tspan></text></g>
<g id="n-nap"><rect class="n" x="3519" y="594" width="108" height="36"/><text><tspan x="3573" y="608.8">neuron apoptotic</tspan><tspan x="3573" y="622.2">process</tspan></text><rect class="m" x="3519" y="630" width="54" height="22"/><rect class="m" x="3573" y="630" width="54" height="22"/><text><tspan x="3546" y="645">Mouse</tspan><tspan x="3600" y="645">Ndufs4</tspan></text></g>
<g id="n-pcca"><rect class="n" x="3910" y="605" width="120" height="36"/><text><tspan x="3970" y="619.8">protein-containing</tspan><tspan x="3970" y="633.2">complex assembly</tspan></text></g>
<g id="n-mo"><rect class="n" x="4083" y="605" width="90" height="36"/><text><tspan x="4128" y="619.8">mitochondrion</tspan><tspan x="4128" y="633.2">organization</tspan></text></g>
<g id="n-etc"><rect class="n" x="4219" y="605" width="112" height="36"/><text><tspan x="4275" y="619.8">electron transport</tspan><tspan x="4275" y="633.2">chain</tspan></text></g>
<g id="n-cr"><rect class="n" x="4375" y="600.5" width="120" height="23"/><text><tspan x="4435" y="615.5">cellular respiration</tspan></text><rect class="h" x="4375" y="623.5" width="60" height="22"/><rect class="h" x="4435" y="623.5" width="60" height="22"/><text><tspan x="4405" y="638.5">Human</tspan><tspan x="4465" y="638.5">NDUFS4</tspan></text></g>
<g id="n-rphosmp"><rect class="n" x="4660" y="598.5" width="130" height="49"/><text><tspan x="4725" y="613.1">regulation of</tspan><tspan x="4725" y="626.5">phosphate metabolic</tspan><tspan x="4725" y="639.9">process</tspan></text></g>
<g id="n-phos"><rect class="n" x="4835" y="611.5" width="102" height="23"/><text><tspan x="4886" y="626.5">phosphorylation</tspan></text></g>
<g id="n-rprmp"><rect class="n" x="5144" y="598.5" width="109" height="49"/><text><tspan x="5198.5" y="613.1">regulation of</tspan><tspan x="5198.5" y="626.5">protein metabolic</tspan><tspan x="5198.5" y="639.9">process</tspan></text></g>
<g id="n-pmodp"><rect class="n" x="5299" y="605" width="122" height="36"/><text><tspan x="5360" y="619.8">protein modification</tspan><tspan x="5360" y="633.2">process</tspan></text></g>
<g id="n-bamp"><rect class="n" x="5599" y="605" width="115" height="36"/><text><tspan x="5656.5" y="619.8">biogenic amine</tspan><tspan x="5656.5" y="633.2">metabolic process</tspan></text></g>
<g id="n-ccmp"><rect class="n" x="5760" y="598.5" width="130" height="49"/><text><tspan x="5825" y="613.1">catechol-containing</tspan><tspan x="5825" y="626.5">compound metabolic</tspan><tspan x="5825" y="639.9">process</tspan></text></g>
<g id="n-iir"><rect class="n" x="16" y="700.5" width="99" height="36"/><text><tspan x="65.5" y="715.3">innate immune</tspan><tspan x="65.5" y="728.7">response</tspan></text><rect class="m" x="16" y="736.5" width="49.5" height="22"/><rect class="m" x="65.5" y="736.5" width="49.5" height="22"/><text><tspan x="40.75" y="751.5">Mouse</tspan><tspan x="90.25" y="751.5">Ndufs4</tspan></text></g>
<g id="n-rw"><rect class="n" x="388" y="711.5" width="79" height="36"/><text><tspan x="427.5" y="726.3">response to</tspan><tspan x="427.5" y="739.7">wounding</tspan></text></g>
<g id="n-rcamp"><rect class="n" x="572" y="700.5" width="111" height="36"/><text><tspan x="627.5" y="715.3">response to</tspan><tspan x="627.5" y="728.7">cAMP</tspan></text><rect class="h" x="572" y="736.5" width="55.5" height="22"/><rect class="h" x="627.5" y="736.5" width="55.5" height="22"/><text><tspan x="599.75" y="751.5">Human</tspan><tspan x="655.25" y="751.5">NDUFS4</tspan></text></g>
<g id="n-rsrma"><rect class="n" x="828" y="698.5" width="131" height="62"/><text><tspan x="893.5" y="712.9">response to</tspan><tspan x="893.5" y="726.3">stimulus involved</tspan><tspan x="893.5" y="739.7">in regulation</tspan><tspan x="893.5" y="753.1">of muscle adaptation</tspan></text></g>
<g id="n-vp"><rect class="n" x="1535" y="707" width="109" height="23"/><text><tspan x="1589.5" y="722">visual perception</tspan></text><rect class="m" x="1535" y="730" width="54.5" height="22"/><rect class="m" x="1589.5" y="730" width="54.5" height="22"/><text><tspan x="1562.25" y="745">Mouse</tspan><tspan x="1616.75" y="745">Ndufs4</tspan></text></g>
<g id="n-sps"><rect class="n" x="1695" y="700.5" width="121" height="36"/><text><tspan x="1755.5" y="715.3">sensory perception</tspan><tspan x="1755.5" y="728.7">of sound</tspan></text><rect class="m" x="1695" y="736.5" width="60.5" height="22"/><rect class="m" x="1755.5" y="736.5" width="60.5" height="22"/><text><tspan x="1725.25" y="751.5">Mouse</tspan><tspan x="1785.75" y="751.5">Ndufs4</tspan></text></g>
<g id="n-bd"><rect class="n" x="2276" y="696" width="119" height="23"/><text><tspan x="2335.5" y="711">brain development</tspan></text><rect class="h" x="2276" y="719" width="59.5" height="22"/><rect class="h" x="2335.5" y="719" width="59.5" height="22"/><rect class="m" x="2276" y="741" width="59.5" height="22"/><rect class="m" x="2335.5" y="741" width="59.5" height="22"/><text><tspan x="2305.75" y="734">Human</tspan><tspan x="2365.25" y="734">NDUFS4</tspan><tspan x="2305.75" y="756">Mouse</tspan><tspan x="2365.25" y="756">Ndufs4</tspan></text></g>
<g id="n-gn"><rect class="n" x="2579" y="711.5" width="85" height="36"/><text><tspan x="2621.5" y="726.3">generation of</tspan><tspan x="2621.5" y="739.7">neurons</tspan></text></g>
<g id="n-nadh"><rect class="n" x="3895" y="711.5" width="138" height="36"/><text><tspan x="3964" y="726.3">NADH dehydrogenase</tspan><tspan x="3964" y="739.7">complex assembly</tspan></text></g>
<g id="n-mrcca"><rect class="n" x="4080" y="698.5" width="94" height="62"/><text><tspan x="4127" y="712.9">mitochondrial</tspan><tspan x="4127" y="726.3">respiratory</tspan><tspan x="4127" y="739.7">chain complex</tspan><tspan x="4127" y="753.1">assembly</tspan></text></g>
<g id="n-retc"><rect class="n" x="4284" y="694" width="110" height="49"/><text><tspan x="4339" y="708.6">respiratory</tspan><tspan x="4339" y="722">electron transport</tspan><tspan x="4339" y="735.4">chain</tspan></text><rect class="m" x="4284" y="743" width="55" height="22"/><rect class="m" x="4339" y="743" width="55" height="22"/><text><tspan x="4311.5" y="758">Mouse</tspan><tspan x="4366.5" y="758">Ndufs4</tspan></text></g>
<g id="n-rphos"><rect class="n" x="4818" y="711.5" width="102" height="36"/><text><tspan x="4869" y="726.3">regulation of</tspan><tspan x="4869" y="739.7">phosphorylation</tspan></text></g>
<g id="n-pphos"><rect class="n" x="4965" y="718" width="144" height="23"/><text><tspan x="5037" y="733">protein phosphorylation</tspan></text></g>
<g id="n-rpmodp"><rect class="n" x="5155" y="705" width="123" height="49"/><text><tspan x="5216.5" y="719.6">regulation of</tspan><tspan x="5216.5" y="733">protein modification</tspan><tspan x="5216.5" y="746.4">process</tspan></text></g>
<g id="n-cam"><rect class="n" x="5683" y="711.5" width="115" height="36"/><text><tspan x="5740.5" y="726.3">catecholamine</tspan><tspan x="5740.5" y="739.7">metabolic process</tspan></text></g>
<g id="n-rinj"><rect class="n" x="595" y="811.5" width="132" height="62"/><text><tspan x="661" y="825.9">response to</tspan><tspan x="661" y="839.3">injury involved</tspan><tspan x="661" y="852.7">in regulation</tspan><tspan x="661" y="866.1">of muscle adaptation</tspan></text><rect class="m" x="595" y="873.5" width="66" height="22"/><rect class="m" x="661" y="873.5" width="66" height="22"/><text><tspan x="628" y="888.5">Mouse</tspan><tspan x="694" y="888.5">Ndufs4</tspan></text></g>
<g id="n-ndiff"><rect class="n" x="2625" y="842" width="131" height="23"/><text><tspan x="2690.5" y="857">neuron differentiation</tspan></text></g>
<g id="n-mrcc1"><rect class="n" x="3989" y="800.5" width="111" height="62"/><text><tspan x="4044.5" y="814.9">mitochondrial</tspan><tspan x="4044.5" y="828.3">respiratory</tspan><tspan x="4044.5" y="841.7">chain complex</tspan><tspan x="4044.5" y="855.1">I assembly</tspan></text><rect class="h" x="3989" y="862.5" width="55.5" height="22"/><rect class="h" x="4044.5" y="862.5" width="55.5" height="22"/><rect class="m" x="3989" y="884.5" width="55.5" height="22"/><rect class="m" x="4044.5" y="884.5" width="55.5" height="22"/><text><tspan x="4016.75" y="877.5">Human</tspan><tspan x="4072.25" y="877.5">NDUFS4</tspan><tspan x="4016.75" y="899.5">Mouse</tspan><tspan x="4072.25" y="899.5">Ndufs4</tspan></text></g>
<g id="n-rpphos"><rect class="n" x="4964" y="824.5" width="145" height="36"/><text><tspan x="5036.5" y="839.3">regulation of</tspan><tspan x="5036.5" y="852.7">protein phosphorylation</tspan></text><rect class="h" x="4964" y="860.5" width="72.5" height="22"/><rect class="h" x="5036.5" y="860.5" width="72.5" height="22"/><text><tspan x="5000.25" y="875.5">Human</tspan><tspan x="5072.75" y="875.5">NDUFS4</tspan></text></g>
<g id="n-dmp"><rect class="n" x="5678" y="824.5" width="126" height="36"/><text><tspan x="5741" y="839.3">dopamine metabolic</tspan><tspan x="5741" y="852.7">process</tspan></text><rect class="m" x="5678" y="860.5" width="63" height="22"/><rect class="m" x="5741" y="860.5" width="63" height="22"/><text><tspan x="5709.5" y="875.5">Mouse</tspan><tspan x="5772.5" y="875.5">Ndufs4</tspan></text></g>
<g id="n-ndev"><rect class="n" x="2682" y="942.5" width="127" height="23"/><text><tspan x="2745.5" y="957.5">neuron development</tspan></text><rect class="m" x="2682" y="965.5" width="63.5" height="22"/><rect class="m" x="2745.5" y="965.5" width="63.5" height="22"/><text><tspan x="2713.75" y="980.5">Mouse</tspan><tspan x="2777.25" y="980.5">Ndufs4</tspan></text></g>
</svg>
